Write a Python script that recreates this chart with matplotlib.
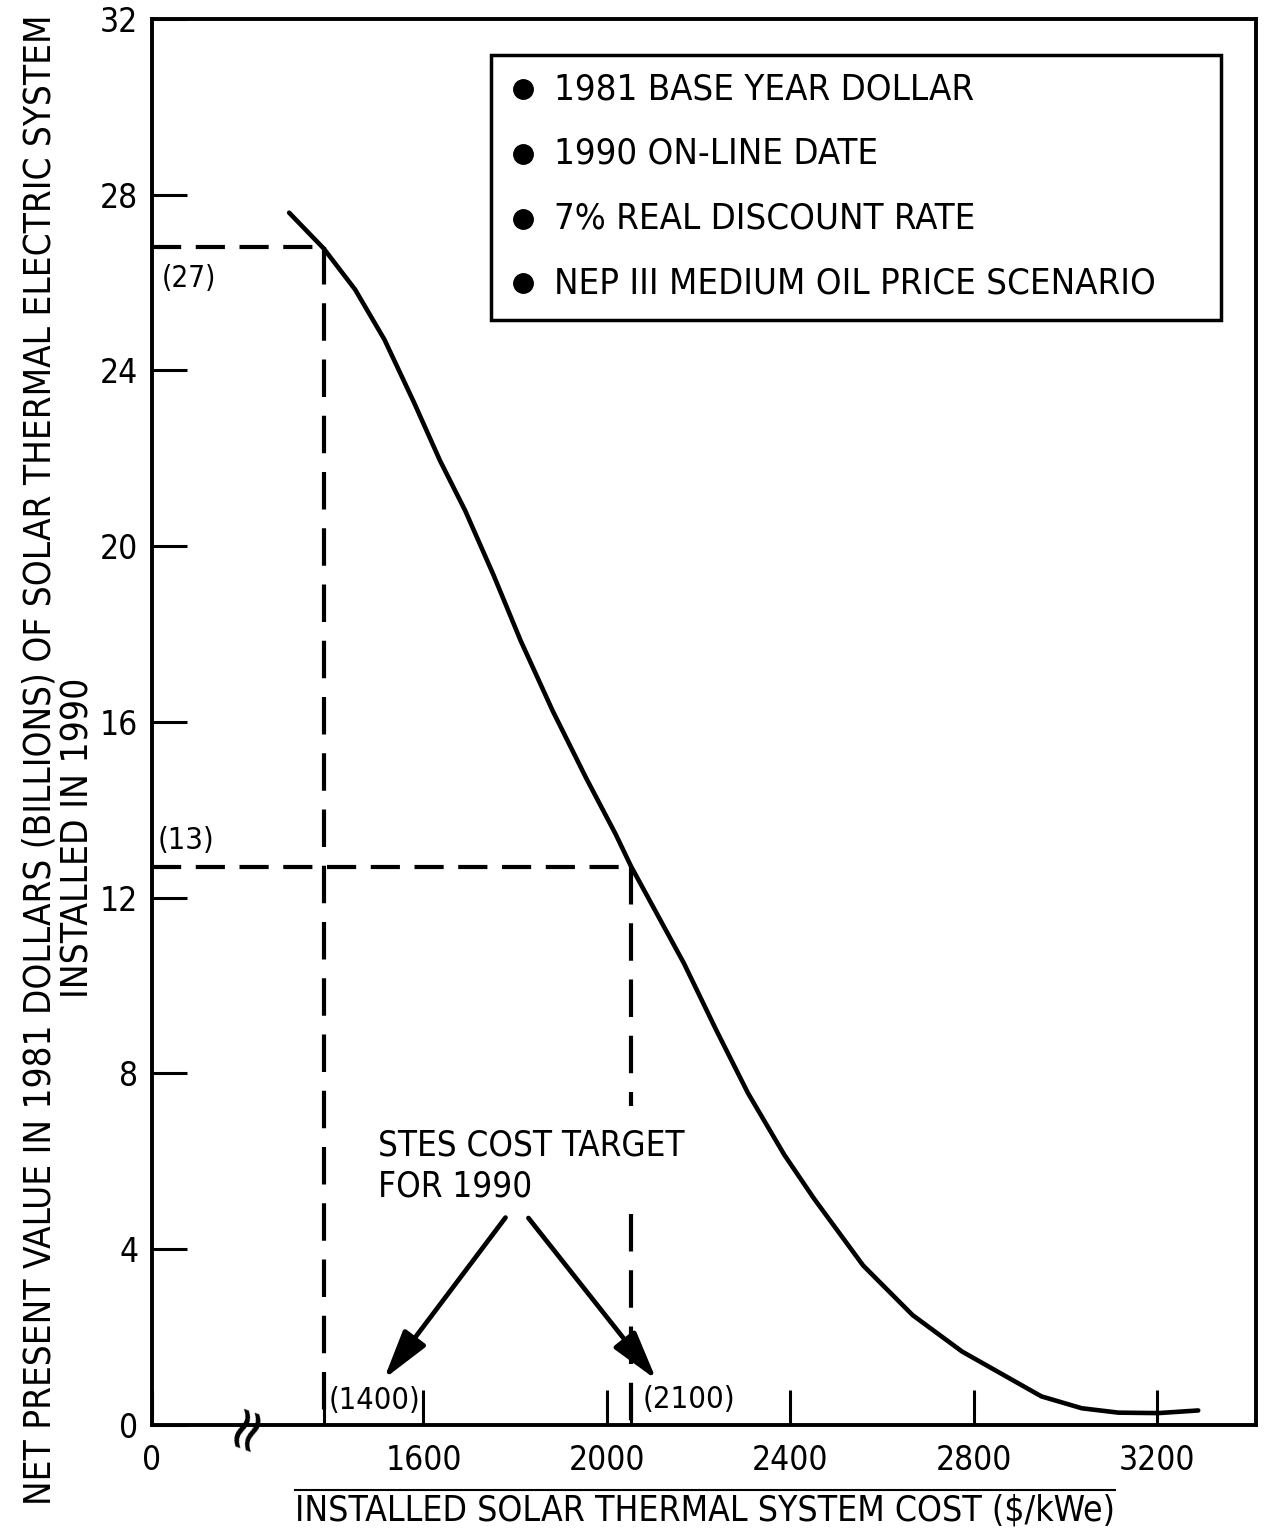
import matplotlib.pyplot as plt
from matplotlib import font_manager as fm
from matplotlib.font_manager import FontProperties
from matplotlib.patches import Rectangle
from matplotlib.textpath import TextPath

# curve: installed cost ($/kWe) vs NPV (billions 1981 $)
cost = [1307, 1382, 1451, 1515, 1579, 1636, 1691, 1753, 1812, 1882, 1955, 2019, 2053,
        2168, 2238, 2308, 2387, 2452, 2559, 2667, 2775, 2948, 3036, 3116, 3203, 3290]
npv = [27.59, 26.78, 25.84, 24.70, 23.28, 21.95, 20.81, 19.34, 17.85, 16.25, 14.72, 13.45, 12.71,
       10.51, 9.00, 7.55, 6.15, 5.15, 3.63, 2.50, 1.67, 0.65, 0.38, 0.28, 0.27, 0.33]

x_origin = 1008          # broken axis: this position is shown as 0
x_break = 1215
cost_ticks = [1600, 2000, 2400, 2800, 3200]
npv_ticks = [0, 4, 8, 12, 16, 20, 24, 28, 32]

target_cost = [1382, 2053]      # dashed verticals, labelled (1400) and (2100)
target_npv = [26.8, 12.7]       # dashed horizontals, labelled (27) and (13)
cost_labels = ['(1400)', '(2100)']
npv_labels = ['(27)', '(13)']

notes = ['1981 BASE YEAR DOLLAR', '1990 ON-LINE DATE',
         '7% REAL DISCOUNT RATE', 'NEP III MEDIUM OIL PRICE SCENARIO']
ylabel1 = 'NET PRESENT VALUE IN 1981 DOLLARS (BILLIONS) OF SOLAR THERMAL ELECTRIC SYSTEM'
ylabel2 = 'INSTALLED IN 1990'
xlabel = 'INSTALLED SOLAR THERMAL SYSTEM COST ($/kWe)'


# pick the narrowest regular font that is installed
def pick_font():
    prefs = ['liberationsansnarrow-regular', 'dejavusanscondensed.', 'robotocondensed-regular',
             'notosans-condensed.', 'opensans_condensed-regular', 'opensans-condensed',
             'roboto-regular', 'dejavusans.']
    files = [f.fname for f in fm.fontManager.ttflist]
    for p in prefs:
        for f in files:
            if p in f.lower().replace(' ', ''):
                return f
    return None


path = pick_font()
FP = FontProperties(fname=path) if path else FontProperties(family='DejaVu Sans')


def fit(s, px):
    # font size (pt) that makes the ink width of s about px pixels at 100 dpi
    w = TextPath((0, 0), s, prop=FP, size=10).get_extents().width
    return 10 * px * 0.72 / w


def txt(target, x, y, s, size, **kw):
    fp = FP.copy()
    fp.set_size(size)
    return target.text(x, y, s, fontproperties=fp, **kw)


fig = plt.figure(figsize=(12.66, 15.38), dpi=100)
ax = fig.add_axes([0.1201, 0.0735, 0.872, 0.9142])

ax.plot(cost, npv, color='black', lw=3.3, solid_capstyle='round', solid_joinstyle='round')

hdash = dict(color='black', lw=3.0, dashes=(7, 3.5))
vdash = dict(color='black', lw=3.0, dashes=(9, 4.5))
for c, v in zip(target_cost, target_npv):
    ax.plot([x_origin, c], [v, v], **hdash)
ax.plot([target_cost[0]] * 2, [target_npv[0], 0], **vdash)
# second vertical has a gap where the note text sits
ax.plot([target_cost[1]] * 2, [target_npv[1], 7.25], **vdash)
ax.plot([target_cost[1]] * 2, [4.8, 0], **vdash)

txt(ax, 1030, 26.1, npv_labels[0], fit('(27)', 50), ha='left', va='center')
txt(ax, 1020, 13.3, npv_labels[1], fit('(13)', 52), ha='left', va='center')
txt(ax, 1393, 0.56, cost_labels[0], fit('(1400)', 87), ha='left', va='center')
txt(ax, 2079, 0.58, cost_labels[1], fit('(2100)', 88), ha='left', va='center')

txt(ax, 1500, 6.75, 'STES COST TARGET\nFOR 1990', fit('STES COST TARGET', 305),
    ha='left', va='top', linespacing=1.25)
arrow = dict(arrowstyle='-|>,head_length=1.0,head_width=0.28', lw=3.4, color='black',
             mutation_scale=30, shrinkA=0, shrinkB=0)
ax.annotate('', xy=(1514, 1.05), xytext=(1779, 4.72), arrowprops=arrow)
ax.annotate('', xy=(2108, 1.03), xytext=(1829, 4.71), arrowprops=arrow)

# axis break mark
ax.text(x_break, 0, '\u2248', fontsize=44, rotation=70, ha='center', va='center',
        family='DejaVu Sans', clip_on=False)

# notes box
ax.add_patch(Rectangle((0.307, 0.786), 0.661, 0.188, transform=ax.transAxes,
                       fill=False, lw=2.5, color='black'))
rows = [0.950, 0.904, 0.858, 0.812]
widths = [403, 310, 405, 645]
note_size = sum(fit(s, w) for s, w in zip(notes, widths)) / len(notes)
for y, s in zip(rows, notes):
    ax.plot([0.336], [y], 'o', color='black', ms=14, transform=ax.transAxes)
    txt(ax, 0.3645, y, s, note_size, ha='left', va='center', transform=ax.transAxes)

ax.set_xlim(x_origin, 3416)
ax.set_ylim(0, 32)
ax.set_xticks([x_origin] + cost_ticks)
ax.set_xticklabels(['0'] + [str(t) for t in cost_ticks])
ax.set_xticks(target_cost, minor=True)
ax.set_yticks(npv_ticks)
tick_size = fit('1600', 71)
ax.tick_params(direction='in', length=25, width=2.2, pad=10)
ax.tick_params(axis='x', which='minor', direction='in', length=25, width=2.2)
ax.tick_params(axis='x', pad=14)
for lab in ax.get_xticklabels() + ax.get_yticklabels():
    lab.set_fontproperties(FP)
    lab.set_fontsize(tick_size)
for sp in ax.spines.values():
    sp.set_linewidth(2.8)

txt(fig, 0.0316, 0.506, ylabel1, fit(ylabel1, 1480), rotation=90, ha='center', va='center')
txt(fig, 0.0615, 0.455, ylabel2, fit(ylabel2, 315), rotation=90, ha='center', va='center')
txt(fig, 0.557, 0.018, xlabel, fit(xlabel, 814), ha='center', va='center')
fig.add_artist(plt.Line2D([0.233, 0.881], [0.0312, 0.0312], color='black', lw=1.5))

fig.savefig('out.png', dpi=100)
